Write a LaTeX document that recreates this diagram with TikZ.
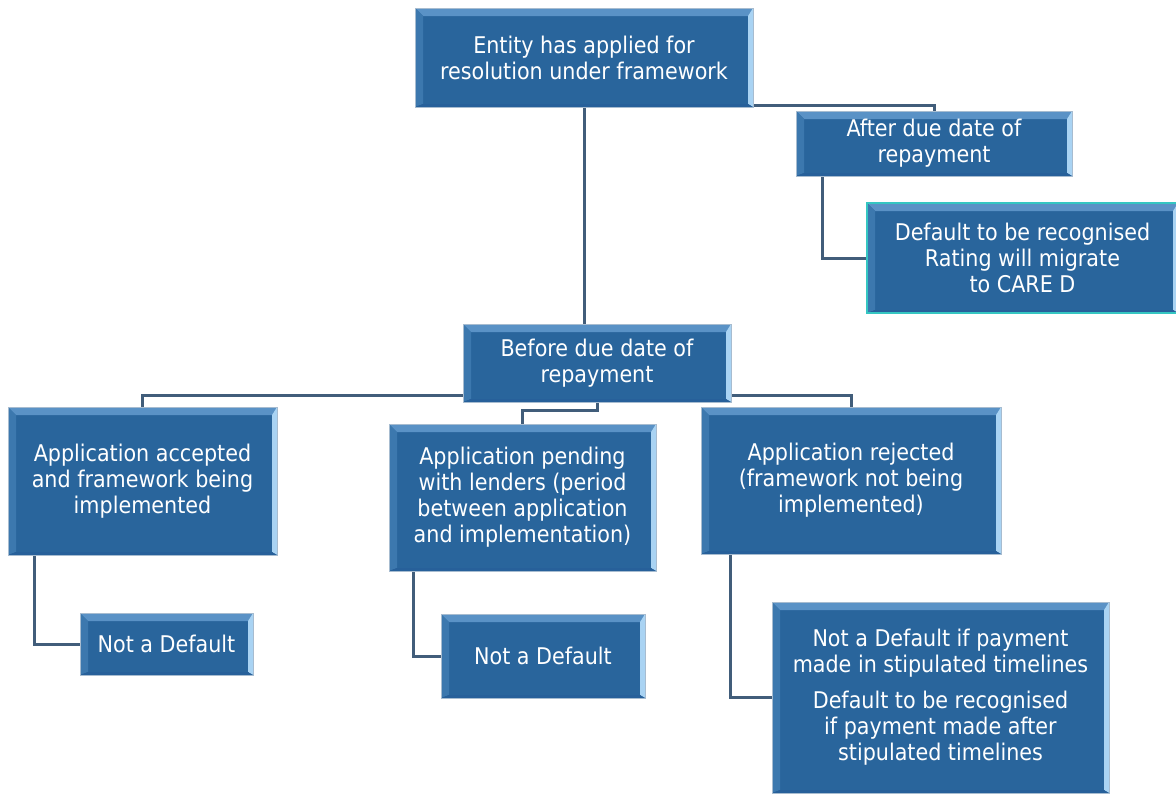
\documentclass[tikz,border=0pt]{standalone}
\usepackage{fontspec}
\setmainfont{DejaVu Sans Condensed}
\usetikzlibrary{backgrounds}
\definecolor{boxblue}{HTML}{29659C}
\definecolor{bevtop}{HTML}{5A92C6}
\definecolor{bevleft}{HTML}{3C78AE}
\definecolor{bevright}{HTML}{A9D3F3}
\definecolor{bevbot}{HTML}{27609A}
\definecolor{boxline}{HTML}{A7BCD0}
\definecolor{connc}{HTML}{415D7A}
\definecolor{tealline}{HTML}{35C6C2}
\tikzset{
  box/.style={draw=boxline, line width=0.8pt, fill=boxblue, text=white, align=center,
    inner sep=0pt, font=\fontsize{23}{26}\selectfont,
    path picture={
      \fill[bevtop] (path picture bounding box.north west) -- (path picture bounding box.north east)
        -- ([shift={(-5pt,-8pt)}]path picture bounding box.north east)
        -- ([shift={(8pt,-8pt)}]path picture bounding box.north west) -- cycle;
      \fill[bevleft] (path picture bounding box.north west)
        -- ([shift={(8pt,-8pt)}]path picture bounding box.north west)
        -- ([shift={(8pt,3pt)}]path picture bounding box.south west)
        -- (path picture bounding box.south west) -- cycle;
      \fill[bevright] (path picture bounding box.north east) -- (path picture bounding box.south east)
        -- ([shift={(-5pt,3pt)}]path picture bounding box.south east)
        -- ([shift={(-5pt,-8pt)}]path picture bounding box.north east) -- cycle;
      \fill[bevbot] (path picture bounding box.south west) -- (path picture bounding box.south east)
        -- ([shift={(-5pt,3pt)}]path picture bounding box.south east)
        -- ([shift={(8pt,3pt)}]path picture bounding box.south west) -- cycle;
    }},
  conn/.style={draw=connc, line width=3pt},
}
\begin{document}
\begin{tikzpicture}[x=1pt,y=-1pt]
\useasboundingbox (0,0) rectangle (1176,793);
\node[box, minimum width=338pt, minimum height=99pt] (top) at (584,57.5)
  {Entity has applied for\\resolution under framework};
\node[box, minimum width=276pt, minimum height=65pt] (after) at (934,143.5)
  {After due date of\\repayment};
\node[box, draw=tealline, line width=2pt, minimum width=311pt, minimum height=110pt] (dflt) at (1022.5,258)
  {Default to be recognised\\Rating will migrate\\to CARE D};
\node[box, minimum width=268pt, minimum height=78pt] (before) at (597,363)
  {Before due date of\\repayment};
\node[box, minimum width=269pt, minimum height=148pt] (acc) at (142.5,481)
  {Application accepted\\and framework being\\implemented};
\node[box, minimum width=267pt, minimum height=147pt] (pend) at (522.5,497.5)
  {Application pending\\with lenders (period\\between application\\and implementation)};
\node[box, minimum width=300pt, minimum height=147pt] (rej) at (851,480.5)
  {Application rejected\\(framework not being\\implemented)};
\node[box, minimum width=173pt, minimum height=62pt] (nd1) at (166.5,644)
  {Not a Default};
\node[box, minimum width=204pt, minimum height=84pt] (nd2) at (543,656)
  {Not a Default};
\node[box, minimum width=337pt, minimum height=191pt] (nd3) at (940.5,697.5)
  {Not a Default if payment\\made in stipulated timelines\\[10pt]Default to be recognised\\if payment made after\\stipulated timelines};
\begin{scope}[on background layer]
\draw[conn] (top.south) -- (top.south |- before.north);
\draw[conn] ([yshift=2pt]top.south east) -| (after.north);
\draw[conn] ([xshift=27pt]after.south west) |- (dflt.west);
\draw[conn] ([yshift=7pt]before.south west) -| (acc.north);
\draw[conn] (before.south) -- ++(0,8) -| (pend.north);
\draw[conn] ([yshift=7pt]before.south east) -| (rej.north);
\draw[conn] ([xshift=27pt]acc.south west) |- (nd1.west);
\draw[conn] ([xshift=25pt]pend.south west) |- (nd2.west);
\draw[conn] ([xshift=30pt]rej.south west) |- (nd3.west);
\end{scope}
\end{tikzpicture}
\end{document}
